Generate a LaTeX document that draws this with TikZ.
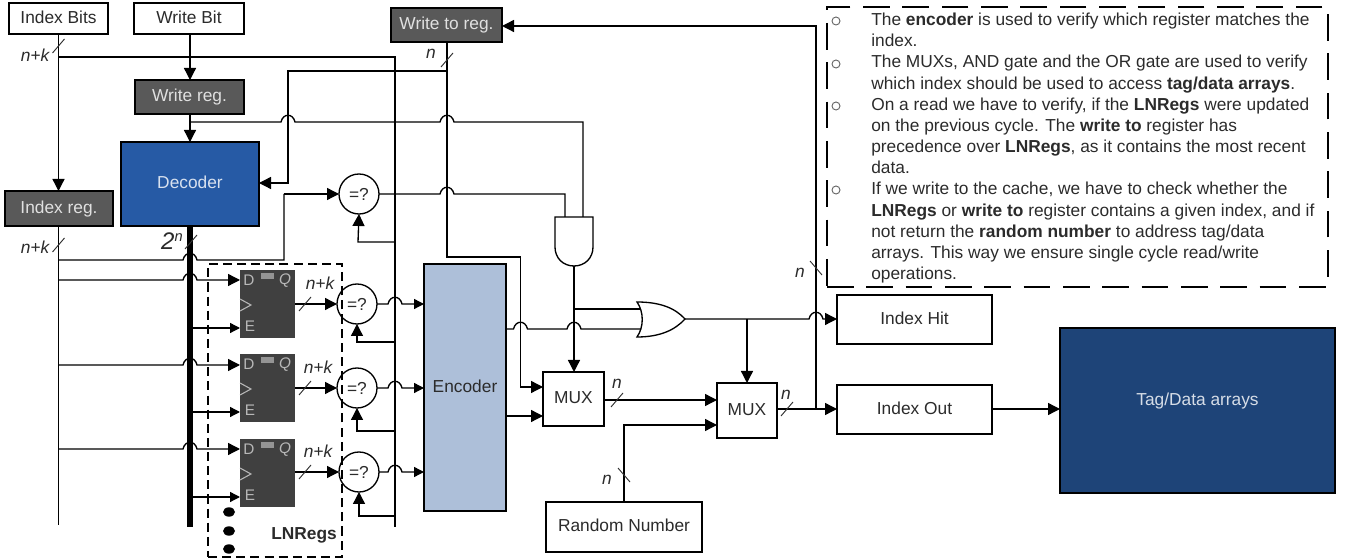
\documentclass[tikz,border=0pt]{standalone}
\usepackage{fontspec}
\setmainfont{Liberation Sans}
\usetikzlibrary{arrows.meta,calc}
\definecolor{darkreg}{HTML}{595959}
\definecolor{ffgray}{HTML}{404040}
\definecolor{decblue}{HTML}{265AA5}
\definecolor{encblue}{HTML}{ADBFD9}
\definecolor{tagblue}{HTML}{1E4478}
\definecolor{inktext}{HTML}{2B2B2B}
\newcommand{\hopr}[2]{-- (#1-7,#2) .. controls (#1-5,#2-9) and (#1+5,#2-9) .. (#1+7,#2)}
\newcommand{\fwdmark}[2]{\draw[thin line] (#1-6,#2+7) -- (#1+6,#2-7);}
\newcommand{\bckmark}[2]{\draw[thin line] (#1-6,#2-7) -- (#1+6,#2+7);}
\newcommand{\bx}[7][]{\node[#2,#1,minimum width={(#5-#3)*0.75pt},minimum height={(#6-#4)*0.75pt}] (#7) at ({(#3+#5)/2},{(#4+#6)/2})}
\tikzset{
  wire/.style={line width=1pt,draw=black},
  thin line/.style={line width=0.7pt,draw=black!80},
  arr/.style={wire,-{Triangle[length=9pt,width=9pt]}},
  arrs/.style={wire,-{Triangle[length=7.5pt,width=7.5pt]}},
  plainbox/.style={draw=black,line width=1pt,fill=white,text=inktext,inner sep=0pt,outer sep=0pt,text height=9.5pt,text depth=2.5pt,font=\fontsize{13}{15}\selectfont},
  regbox/.style={plainbox,fill=darkreg,text=black!12},
  ffbox/.style={plainbox,draw=none,fill=ffgray},
  ffchar/.style={text=black!28,inner sep=0pt,font=\fontsize{11.5}{13}\selectfont},
  cmp/.style={circle,draw=black,line width=1pt,inner sep=0pt,outer sep=0pt,minimum size=30pt,text=inktext,font=\fontsize{13}{15}\selectfont},
  lab/.style={inner sep=0pt,text=inktext,font=\fontsize{13}{15}\itshape\selectfont},
  dashbox/.style={draw=black,line width=1pt,inner sep=0pt,outer sep=0pt},
  notetext/.style={inner sep=0pt,anchor=north west,align=left,text=inktext,font=\fontsize{13}{15.9}\selectfont},
  bulletmark/.style={circle,draw=black!60,line width=0.7pt,minimum size=6pt,inner sep=0pt},
}
\begin{document}
\begin{tikzpicture}[x=0.75pt,y=-0.75pt]
\useasboundingbox (0,0) rectangle (1347,559);

% dashed frames
\bx[dash pattern=on 6.8pt off 3.8pt]{dashbox}{208}{264}{342}{557}{lnregs} {};
\bx[dash pattern=on 20pt off 9.5pt]{dashbox}{827}{7}{1328}{287}{notes} {};

% boxes
\bx{plainbox}{9}{3}{108}{34}{ibits} {Index Bits};
\bx{plainbox}{134}{3}{244}{34}{wbit} {Write Bit};
\bx{regbox}{135}{80}{244}{114}{wreg} {Write reg.};
\bx{regbox}{5}{191}{113}{226}{ireg} {Index reg.};
\bx{regbox}{391}{8}{502}{42}{wtoreg} {Write to reg.};
\bx[fill=decblue,text=white!82!decblue]{plainbox}{121}{142}{259}{226}{dec} {Decoder};
\bx[fill=encblue]{plainbox}{424}{264}{506}{511}{enc} {Encoder};
\bx{plainbox}{543}{372}{604}{426}{muxa} {MUX};
\bx{plainbox}{717}{383}{777}{438}{muxb} {MUX};
\bx{plainbox}{546}{502}{702}{552}{rnd} {Random Number};
\bx{plainbox}{837}{295}{992}{344}{ihit} {Index Hit};
\bx{plainbox}{837}{385}{992}{434}{iout} {Index Out};
\bx[fill=tagblue,text=white!82!tagblue,text depth=17.5pt]{plainbox}{1060}{328}{1335}{493}{tag} {Tag/Data arrays};

% flip-flops
\foreach \nm/\ty in {ffa/270,ffb/354,ffc/439}{
  \bx{ffbox}{240}{\ty}{295}{\ty+68}{\nm} {};
  \node[ffchar] (\nm d) at ($(\nm.north west)+(9,10)$) {D};
  \node[ffchar,font=\fontsize{11.5}{13}\itshape\selectfont] (\nm q) at ($(\nm.north west)+(45,11)$) {Q};
  \node[ffchar] (\nm e) at ($(\nm.north west)+(10,56)$) {E};
  \draw[black!28,line width=0.8pt] ($(\nm.north west)+(0,29)$) -- ($(\nm.north west)+(11,35)$) -- ($(\nm.north west)+(0,41)$);
  \fill[black!42] ($(\nm.north west)+(21,3)$) rectangle ($(\nm.north west)+(34,9)$);
}

% comparators
\node[cmp] (cmpt) at (359,194) {=?};
\node[cmp] (cmpa) at (357,304) {=?};
\node[cmp] (cmpb) at (357,388) {=?};
\node[cmp] (cmpc) at (359,472) {=?};

% gates
\coordinate (andl) at (565,217);
\coordinate (andr) at (583,217);
\coordinate (andout) at (574,266);
\draw[wire,fill=white] (555,217) -- (593,217) -- (593,247) .. controls (593,258) and (585,266) .. (andout) .. controls (563,266) and (555,258) .. (555,247) -- cycle;
\coordinate (oru) at (641,309);
\coordinate (orl) at (641,329);
\coordinate (orout) at (685,319);
\draw[wire,fill=white] (637,302) .. controls (660,302) and (675,308) .. (orout) .. controls (675,330) and (660,337) .. (637,337) .. controls (644,327) and (644,312) .. cycle;

% junctions
\coordinate (jib) at (58.5,57);
\coordinate (jlatch) at (395,57);
\coordinate (jlatchend) at (395,527);
\coordinate (jbusend) at (190,527);
\coordinate (jiend) at (58.5,525);
\coordinate (jwrite) at (190,122);
\coordinate (jwto) at (447,71);
\coordinate (jorb) at (574,309);
\coordinate (jorm) at (747,319);
\coordinate (jmo) at (816,409);

% index lines
\draw[arr] (ibits.south -| jib) -- (ireg.north -| jib);
\draw[wire] (jib) -- (jlatch) -- (jlatchend);
\draw[arr] (wbit.south -| jwrite) -- (wreg.north -| jwrite);
\draw[arr] (wreg.south -| jwrite) -- (dec.north -| jwrite);
\draw[wire] (ireg.south -| jib) -- (jiend);

% write -> AND
\draw[wire] (jwrite) \hopr{288}{122} \hopr{447}{122} -- (andr |- jwrite) -- (andr);
% write to reg -> decoder / mux
\draw[arr] (wtoreg.south -| jwto) -- (447,257) -- (520.5,257) -- (520.5,387) -- (muxa.west |- 0,387);
\draw[arr] (jwto) -- (288,71) -- (288,183) -- (dec.east |- 0,183);
% compare top -> AND
\draw[wire] (cmpt.east) \hopr{447}{194} -- (andl |- cmpt) -- (andl);
\draw[arr] (jlatch |- 0,242) -- (358,242) -- (cmpt.south);
\draw[wire] (58.5,260) \hopr{190}{260} -- (284,260) -- (284,194);
\draw[arr] (284,194) -- (cmpt.west);

% bus
\draw[line width=3.8pt] (dec.south -| jbusend) -- (jbusend);

% flip-flop inputs and outputs
\foreach \nm/\cp/\yd/\ye/\yo/\yb/\xb in {ffa/cmpa/280/328/304/342/357,ffb/cmpb/365/412/388/431/357,ffc/cmpc/449/497/472/516/359}{
  \draw[arr] (58.5,\yd) \hopr{190}{\yd} -- (\nm.west |- 0,\yd);
  \draw[arrs] (190,\ye) -- (\nm.west |- 0,\ye);
  \draw[arr] (\nm.east |- 0,\yo) -- (\cp.west);
  \draw[arr] (jlatch |- 0,\yb) -- (\xb,\yb) -- (\cp.south);
  \draw[arrs] (\cp.east) \hopr{395}{\yo} -- (enc.west |- 0,\yo);
}

% encoder outputs
\draw[wire] (enc.east |- 0,329) \hopr{520.5}{329} \hopr{574}{329} -- (orl);
\draw[arr] (enc.east |- 0,416) -- (muxa.west |- 0,416);

% AND output
\draw[line width=2pt] (andout) -- (jorb);
\draw[wire] (jorb) -- (oru);
\draw[arr] (jorb) -- (muxa.north -| jorb);

% OR output
\draw[arr] (orout) \hopr{816}{319} -- (ihit.west |- orout);
\draw[arr] (jorm) -- (muxb.north -| jorm);

% mux lines
\draw[arr] (muxa.east |- 0,400) -- (muxb.west |- 0,400);
\draw[arr] (rnd.north -| 624,0) -- (624,425) -- (muxb.west |- 0,425);
\draw[arr] (muxb.east |- 0,409) -- (iout.west |- 0,409);
\draw[arr] (jmo) -- (816,26) -- (wtoreg.east |- 0,26);
\draw[arr] (iout.east |- 0,409) -- (tag.west |- 0,409);

% bus marks
\fwdmark{58.5}{46}
\fwdmark{58.5}{245}
\fwdmark{447}{60}
\fwdmark{191}{242}
\fwdmark{305}{304}
\fwdmark{305}{388}
\fwdmark{305}{472}
\fwdmark{617}{400}
\fwdmark{787}{409}
\bckmark{624}{475}
\bckmark{816}{268}

% labels
\node[lab] (l1) at (35,55) {n+k};
\node[lab] (l2) at (35,247) {n+k};
\node[lab] (l3) at (431,54) {n};
\node[lab,font=\fontsize{18}{20}\itshape\selectfont] (l4) at (172,241) {2\raisebox{6pt}{\fontsize{11}{12}\selectfont n}};
\node[lab] (l5) at (320,283) {n+k};
\node[lab] (l6) at (318,367) {n+k};
\node[lab] (l7) at (318,451) {n+k};
\node[lab] (l8) at (617,384) {n};
\node[lab] (l9) at (786,395) {n};
\node[lab] (l10) at (607,480) {n};
\node[lab] (l11) at (800,273) {n};
\node[lab,font=\fontsize{13}{15}\bfseries\selectfont] (lnlab) at (304,535) {LNRegs};

% dots
\foreach \yy in {512,531,549}{
  \fill (229,\yy) circle[x radius=6,y radius=4.7];
}

% notes
\node[notetext] (n1) at (871,12.5) {The \textbf{encoder} is used to verify which register matches the\\index.};
\node[notetext] (n2) at (871,55) {The MUXs, AND gate and the OR gate are used to verify\\which index should be used to access \textbf{tag/data arrays}.};
\node[notetext] (n3) at (871,97.5) {On a read we have to verify, if the \textbf{LNRegs} were updated\\on the previous cycle. The \textbf{write to} register has\\precedence over \textbf{LNRegs}, as it contains the most recent\\data.};
\node[notetext] (n4) at (871,182) {If we write to the cache, we have to check whether the\\\textbf{LNRegs} or \textbf{write to} register contains a given index, and if\\not return the \textbf{random number} to address tag/data\\arrays. This way we ensure single cycle read/write\\operations.};
\node[bulletmark] (b1) at (836,21) {};
\node[bulletmark] (b2) at (836,64) {};
\node[bulletmark] (b3) at (836,106) {};
\node[bulletmark] (b4) at (836,190) {};
\end{tikzpicture}
\end{document}
